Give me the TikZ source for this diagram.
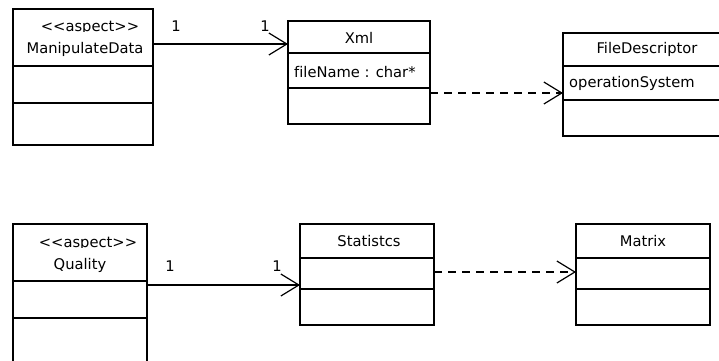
\documentclass[tikz,border=0pt]{standalone}
\usepackage{fontspec}
\setmainfont[Ligatures=NoCommon]{DejaVu Sans}
\usetikzlibrary{arrows.meta}
\tikzset{
  cls/.style={draw, line width=1.2pt, inner sep=0pt, outer sep=0pt, anchor=north west, fill=white},
  sep/.style={line width=1.2pt},
  lbl/.style={inner sep=0pt, font=\fontsize{14.7}{17}\selectfont},
  assoc/.style={line width=1.2pt, -{Straight Barb[length=18pt,width=22pt,line width=1.2pt]}},
  depend/.style={line width=1.2pt, dash pattern=on 8pt off 6pt, -{Straight Barb[length=18pt,width=22pt,line width=1.2pt]}},
}
\newcommand{\stereo}[1]{{<}{<}#1{>}{>}}
\begin{document}
\begin{tikzpicture}[x=1pt,y=-1pt]
\clip (0,0) rectangle (719,360);
\fill[white] (0,0) rectangle (719,360);

% ManipulateData (aspect)
\node[cls, minimum width=140pt, minimum height=136pt] (md) at (13,9) {};
\draw[sep] (13,66) -- (153,66);
\draw[sep] (13,103) -- (153,103);
\begin{scope}
  \clip (13,9) rectangle (153,31);
  \node[lbl, anchor=base] (mdst) at (90,31) {\stereo{aspect}};
\end{scope}
\node[lbl] (mdname) at (85,49) {ManipulateData};

% Xml
\node[cls, minimum width=142pt, minimum height=103pt] (xml) at (288,21) {};
\draw[sep] (288,53) -- (430,53);
\draw[sep] (288,88) -- (430,88);
\node[lbl] (xmlname) at (359,38) {Xml};
\node[lbl, anchor=west] (xmlattr) at (294,72) {fileName : char*};

% FileDescriptor
\node[cls, minimum width=168pt, minimum height=103pt] (fd) at (563,33) {};
\draw[sep] (563,66) -- (731,66);
\draw[sep] (563,100) -- (731,100);
\node[lbl] (fdname) at (647,49) {FileDescriptor};
\node[lbl, anchor=west] (fdattr) at (569,83) {operationSystem};

% Quality (aspect)
\node[cls, minimum width=134pt, minimum height=150pt] (q) at (13,224) {};
\draw[sep] (13,281) -- (147,281);
\draw[sep] (13,318) -- (147,318);
\begin{scope}
  \clip (13,224) rectangle (147,247);
  \node[lbl, anchor=base] (qst) at (88,247) {\stereo{aspect}};
\end{scope}
\node[lbl] (qname) at (80,265) {Quality};

% Statistcs
\node[cls, minimum width=134pt, minimum height=101pt] (st) at (300,224) {};
\draw[sep] (300,258) -- (434,258);
\draw[sep] (300,289) -- (434,289);
\node[lbl] (stname) at (369,241) {Statistcs};

% Matrix
\node[cls, minimum width=134pt, minimum height=101pt] (mx) at (576,224) {};
\draw[sep] (576,258) -- (710,258);
\draw[sep] (576,289) -- (710,289);
\node[lbl] (mxname) at (643,241) {Matrix};

% associations with multiplicities
\draw[assoc] (md.east |- 0,44) -- (xml.west |- 0,44);
\node[lbl] (m1a) at (176,26) {1};
\node[lbl] (m1b) at (265,26) {1};

\draw[assoc] (q.east |- 0,285) -- (st.west |- 0,285);
\node[lbl] (m2a) at (170,266) {1};
\node[lbl] (m2b) at (277,266) {1};

% dependencies
\draw[depend] (xml.east |- 0,93) -- (fd.west |- 0,93);
\draw[depend] (st.east |- 0,272) -- (mx.west |- 0,272);
\end{tikzpicture}
\end{document}
